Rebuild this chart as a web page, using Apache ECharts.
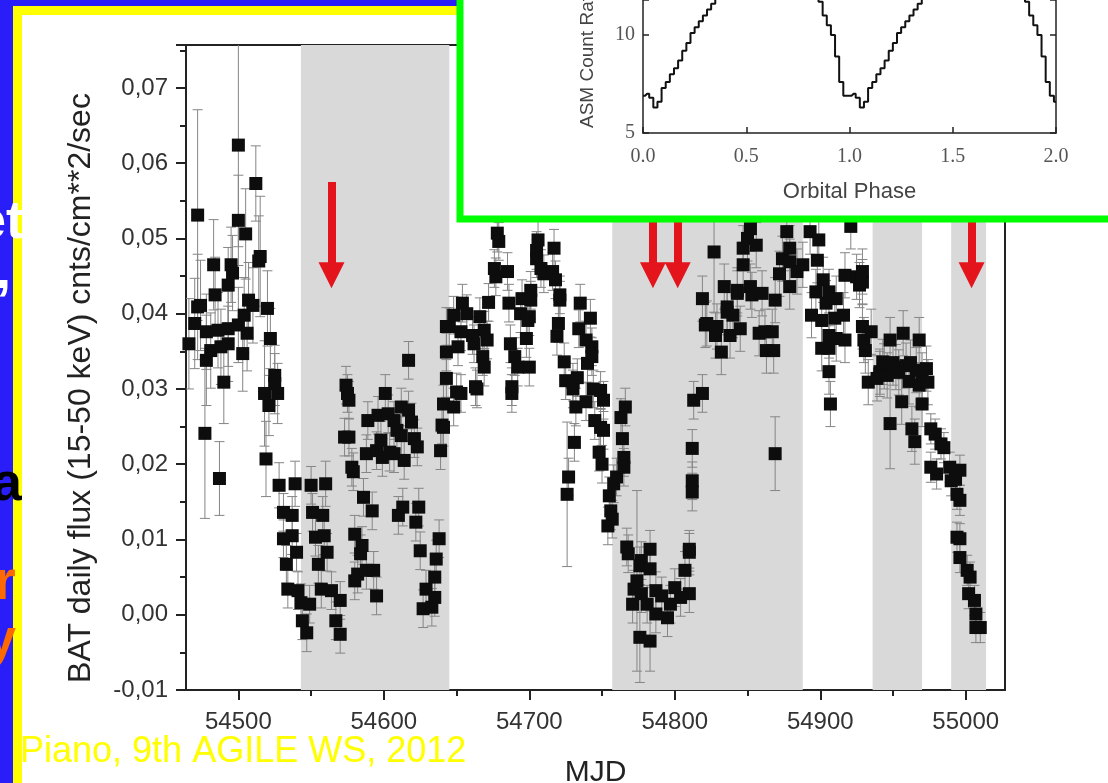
<!DOCTYPE html>
<html>
<head>
<meta charset="utf-8">
<script src="https://cdn.jsdelivr.net/npm/echarts@6/dist/echarts.min.js"></script>
<style>
html, body { margin: 0; padding: 0; background: #2a1ef8; }
#main { width: 1108px; height: 783px; }
</style>
</head>
<body>
<div id="main"></div>
<script>
// BAT daily light curve, rows are [MJD, flux, error]
var batEarly = [
	[54466, 0.0360, 0.006], [54470, 0.0387, 0.006], [54472, 0.0531, 0.014], [54472, 0.0409, 0.007],
	[54474, 0.0411, 0.006], [54477, 0.0241, 0.0113], [54478, 0.0376, 0.005], [54478, 0.0338, 0.006],
	[54481, 0.0351, 0.005], [54483, 0.0465, 0.006], [54484, 0.0425, 0.005], [54486, 0.0378, 0.005],
	[54487, 0.0181, 0.0049], [54488, 0.0356, 0.005], [54490, 0.0309, 0.0055], [54493, 0.0380, 0.005],
	[54493, 0.0438, 0.005], [54493, 0.0360, 0.005], [54495, 0.0465, 0.005], [54496, 0.0454, 0.005],
	[54500, 0.0624, 0.0135], [54500, 0.0524, 0.006], [54500, 0.0385, 0.005], [54503, 0.0347, 0.005],
	[54504, 0.0398, 0.005], [54505, 0.0506, 0.006], [54506, 0.0374, 0.005], [54507, 0.0418, 0.005],
	[54510, 0.0411, 0.005], [54512, 0.0573, 0.005], [54515, 0.0476, 0.008], [54514, 0.0470, 0.006],
	[54518, 0.0294, 0.007], [54519, 0.0207, 0.005], [54520, 0.0407, 0.005], [54521, 0.0278, 0.004],
	[54522, 0.0367, 0.004], [54525, 0.0318, 0.004], [54525, 0.0307, 0.004], [54527, 0.0294, 0.004]
];
var batGap1 = [
	[54528, 0.0172, 0.003], [54531, 0.0136, 0.0025], [54531, 0.0101, 0.0025], [54533, 0.0067, 0.0025],
	[54534, 0.0034, 0.0025], [54537, 0.0132, 0.0025], [54537, 0.0105, 0.0025], [54539, 0.0174, 0.003],
	[54540, 0.0083, 0.0025], [54541, 0.0032, 0.0025], [54543, 0.0016, 0.0025], [54544, -0.0008, 0.0025],
	[54547, -0.0024, 0.0025], [54549, 0.0014, 0.0025], [54550, 0.0172, 0.0025], [54551, 0.0136, 0.0025],
	[54553, 0.0103, 0.0025], [54555, 0.0067, 0.0025], [54557, 0.0034, 0.0025], [54558, 0.0132, 0.0025],
	[54559, 0.0105, 0.0025], [54560, 0.0174, 0.003], [54561, 0.0083, 0.0025], [54564, 0.0032, 0.0025],
	[54567, -0.0008, 0.0025], [54570, 0.0019, 0.0025], [54570, -0.0026, 0.0025], [54573, 0.0236, 0.0025],
	[54574, 0.0305, 0.0025], [54575, 0.0294, 0.0025], [54576, 0.0285, 0.0025], [54576, 0.0236, 0.0025],
	[54578, 0.0196, 0.0025], [54579, 0.0190, 0.0025], [54580, 0.0107, 0.0025], [54580, 0.0045, 0.0025],
	[54582, 0.0054, 0.0025], [54584, 0.0081, 0.0025], [54585, 0.0092, 0.0025], [54586, 0.0156, 0.0025],
	[54588, 0.0059, 0.0025], [54588, 0.0214, 0.0025], [54589, 0.0258, 0.0025], [54592, 0.0138, 0.0025],
	[54593, 0.0059, 0.0025], [54595, 0.0025, 0.0025], [54595, 0.0218, 0.0025], [54596, 0.0265, 0.0025],
	[54598, 0.0232, 0.0025], [54599, 0.0209, 0.0025], [54601, 0.0294, 0.0025], [54603, 0.0267, 0.0025],
	[54604, 0.0216, 0.0025], [54607, 0.0258, 0.0025], [54607, 0.0214, 0.0025], [54609, 0.0245, 0.0025],
	[54610, 0.0132, 0.0025], [54612, 0.0276, 0.0025], [54612, 0.0238, 0.0025], [54613, 0.0143, 0.0025],
	[54614, 0.0205, 0.0025], [54617, 0.0272, 0.0025], [54617, 0.0338, 0.0025], [54619, 0.0256, 0.0025],
	[54621, 0.0234, 0.0025], [54622, 0.0123, 0.0025], [54623, 0.0223, 0.0025], [54624, 0.0143, 0.0025],
	[54625, 0.0085, 0.0025], [54627, 0.0008, 0.0025], [54629, 0.0034, 0.0025], [54633, 0.0010, 0.0025],
	[54635, 0.0050, 0.0025], [54635, 0.0023, 0.0025], [54636, 0.0074, 0.0025], [54638, 0.0101, 0.0025],
	[54639, 0.0218, 0.0025], [54640, 0.0252, 0.0025], [54641, 0.0280, 0.0025], [54641, 0.0249, 0.0025],
	[54643, 0.0314, 0.0025], [54643, 0.0349, 0.0025], [54643, 0.0383, 0.0025], [54645, 0.0383, 0.0025]
];
var batMid = [
	[54648, 0.0276, 0.0025], [54648, 0.0398, 0.0025], [54650, 0.0296, 0.0025], [54651, 0.0356, 0.0025],
	[54653, 0.0294, 0.0025], [54653, 0.0376, 0.0025], [54654, 0.0414, 0.0025], [54657, 0.0400, 0.0025],
	[54661, 0.0371, 0.0025], [54662, 0.0360, 0.0025], [54663, 0.0303, 0.0025], [54664, 0.0300, 0.0025],
	[54666, 0.0396, 0.0025], [54668, 0.0343, 0.0025], [54669, 0.0378, 0.0025], [54669, 0.0329, 0.0025],
	[54671, 0.0365, 0.0025], [54672, 0.0415, 0.0025], [54676, 0.0460, 0.0025], [54677, 0.0449, 0.0025],
	[54678, 0.0507, 0.0025], [54679, 0.0496, 0.0025], [54685, 0.0456, 0.0025], [54686, 0.0414, 0.0025],
	[54687, 0.0360, 0.0025], [54688, 0.0303, 0.0025], [54688, 0.0294, 0.0025], [54690, 0.0343, 0.0025],
	[54692, 0.0329, 0.0025], [54694, 0.0400, 0.0025], [54695, 0.0420, 0.0025], [54698, 0.0367, 0.0025],
	[54699, 0.0391, 0.0025], [54700, 0.0396, 0.0025], [54700, 0.0329, 0.0025], [54701, 0.0431, 0.0025],
	[54701, 0.0418, 0.0025], [54705, 0.0484, 0.0025], [54705, 0.0473, 0.0025], [54706, 0.0498, 0.0025],
	[54708, 0.0460, 0.0025], [54710, 0.0453, 0.0025], [54716, 0.0456, 0.0025], [54717, 0.0487, 0.0025],
	[54718, 0.0445, 0.0025], [54719, 0.0370, 0.0025], [54720, 0.0387, 0.0025], [54721, 0.0425, 0.0025],
	[54721, 0.0418, 0.0025], [54724, 0.0336, 0.0025], [54725, 0.0311, 0.0025], [54726, 0.0160, 0.0096],
	[54727, 0.0183, 0.0025], [54730, 0.0309, 0.0025], [54730, 0.0300, 0.0025], [54731, 0.0229, 0.0025],
	[54732, 0.0276, 0.0025], [54733, 0.0315, 0.0025], [54734, 0.0380, 0.0025], [54735, 0.0414, 0.0025],
	[54739, 0.0365, 0.0025], [54739, 0.0283, 0.0025], [54740, 0.0334, 0.0025], [54742, 0.0394, 0.0025],
	[54743, 0.0356, 0.0025], [54743, 0.0343, 0.0025], [54744, 0.0300, 0.0025], [54745, 0.0258, 0.0025],
	[54748, 0.0216, 0.0025], [54749, 0.0298, 0.0025], [54749, 0.0249, 0.0025], [54750, 0.0200, 0.0025],
	[54751, 0.0285, 0.0025], [54751, 0.0245, 0.0025], [54754, 0.0118, 0.0025], [54755, 0.0158, 0.0025],
	[54756, 0.0138, 0.0025], [54757, 0.0127, 0.0025], [54758, 0.0174, 0.0025], [54760, 0.0183, 0.0025],
	[54763, 0.0262, 0.0025], [54764, 0.0234, 0.0025], [54765, 0.0209, 0.0025], [54765, 0.0196, 0.0025],
	[54766, 0.0276, 0.0025]
];
var batGap2 = [
	[54767, 0.0090, 0.0025], [54768, 0.0081, 0.0025], [54771, 0.0014, 0.0025], [54772, 0.0034, 0.0025],
	[54774, 0.0045, 0.012], [54776, 0.0065, 0.0025], [54776, -0.0030, 0.006], [54777, 0.0072, 0.0025],
	[54777, 0.0028, 0.0025], [54781, 0.0014, 0.0025], [54783, 0.0087, 0.0025], [54783, 0.0061, 0.0025],
	[54783, -0.0035, 0.004], [54787, 0.0032, 0.0025], [54787, 0.0001, 0.0025], [54791, 0.0025, 0.0025],
	[54795, -0.0004, 0.0025], [54797, 0.0014, 0.0025], [54800, 0.0036, 0.0025], [54804, 0.0023, 0.0025],
	[54807, 0.0059, 0.0025], [54810, 0.0083, 0.0025], [54810, 0.0028, 0.0025], [54810, 0.0087, 0.0025],
	[54812, 0.0221, 0.0025], [54812, 0.0178, 0.0025], [54812, 0.0163, 0.0025], [54813, 0.0285, 0.0025],
	[54819, 0.0294, 0.0025], [54819, 0.0420, 0.003], [54821, 0.0385, 0.003], [54822, 0.0387, 0.003],
	[54827, 0.0482, 0.008], [54828, 0.0371, 0.003], [54829, 0.0383, 0.003], [54832, 0.0349, 0.003],
	[54834, 0.0436, 0.003], [54836, 0.0402, 0.003], [54836, 0.0409, 0.003], [54838, 0.0371, 0.003],
	[54840, 0.0398, 0.003], [54843, 0.0431, 0.003], [54843, 0.0427, 0.003], [54845, 0.0380, 0.003],
	[54847, 0.0487, 0.003], [54847, 0.0465, 0.003], [54850, 0.0500, 0.003], [54852, 0.0513, 0.003],
	[54852, 0.0436, 0.003], [54853, 0.0425, 0.003], [54856, 0.0491, 0.003], [54858, 0.0374, 0.003],
	[54860, 0.0427, 0.003], [54862, 0.0376, 0.003], [54863, 0.0351, 0.003], [54867, 0.0376, 0.003],
	[54868, 0.0351, 0.003], [54869, 0.0214, 0.0049], [54869, 0.0418, 0.003], [54872, 0.0453, 0.003],
	[54874, 0.0473, 0.003], [54877, 0.0509, 0.003], [54879, 0.0487, 0.003], [54879, 0.0469, 0.003],
	[54879, 0.0436, 0.003], [54884, 0.0456, 0.003], [54888, 0.0465, 0.003]
];
var batLate = [
	[54893, 0.0509, 0.003], [54894, 0.0398, 0.003], [54897, 0.0429, 0.003], [54898, 0.0471, 0.003],
	[54899, 0.0498, 0.003], [54901, 0.0391, 0.003], [54901, 0.0354, 0.003], [54902, 0.0445, 0.003],
	[54904, 0.0414, 0.003], [54906, 0.0429, 0.003], [54906, 0.0371, 0.003], [54906, 0.0354, 0.003],
	[54906, 0.0323, 0.003], [54907, 0.0280, 0.003], [54910, 0.0394, 0.003], [54911, 0.0420, 0.003],
	[54911, 0.0367, 0.003], [54916, 0.0398, 0.003], [54917, 0.0451, 0.003], [54917, 0.0365, 0.003],
	[54921, 0.0516, 0.003], [54925, 0.0449, 0.003], [54927, 0.0438, 0.003], [54929, 0.0456, 0.003],
	[54929, 0.0442, 0.003], [54929, 0.0383, 0.003], [54930, 0.0365, 0.003], [54931, 0.0351, 0.003],
	[54933, 0.0309, 0.003], [54935, 0.0376, 0.003], [54939, 0.0314, 0.003], [54941, 0.0323, 0.003],
	[54941, 0.0320, 0.003], [54943, 0.0336, 0.003], [54944, 0.0330, 0.003], [54946, 0.0318, 0.003],
	[54948, 0.0365, 0.003], [54948, 0.0254, 0.006], [54950, 0.0335, 0.003], [54952, 0.0329, 0.003],
	[54954, 0.0322, 0.003], [54956, 0.0283, 0.003], [54957, 0.0374, 0.003], [54959, 0.0331, 0.003],
	[54961, 0.0310, 0.003], [54962, 0.0335, 0.003], [54963, 0.0247, 0.003], [54965, 0.0230, 0.003],
	[54966, 0.0325, 0.003], [54968, 0.0365, 0.003], [54968, 0.0305, 0.003], [54970, 0.0280, 0.003],
	[54970, 0.0318, 0.003], [54973, 0.0327, 0.003], [54974, 0.0309, 0.003], [54976, 0.0247, 0.002],
	[54976, 0.0196, 0.002], [54979, 0.0240, 0.002], [54980, 0.0187, 0.002], [54983, 0.0227, 0.002],
	[54985, 0.0222, 0.002], [54989, 0.0196, 0.002], [54990, 0.0178, 0.002], [54993, 0.0180, 0.002],
	[54994, 0.0160, 0.002], [54994, 0.0103, 0.002], [54996, 0.0192, 0.002], [54996, 0.0152, 0.002],
	[54996, 0.0101, 0.002], [54996, 0.0076, 0.002], [55001, 0.0059, 0.002], [55002, 0.0028, 0.002],
	[55003, 0.0050, 0.002], [55006, 0.0019, 0.002], [55007, 0.0001, 0.002], [55007, -0.0017, 0.002],
	[55010, -0.0017, 0.002]
];
var batPoints = batEarly.concat(batGap1, batMid, batGap2, batLate);

var xMajor = [54500, 54600, 54700, 54800, 54900, 55000];
var xMinor = [54550, 54650, 54750, 54850, 54950];
// shaded MJD intervals
var bands = [[54543, 54645], [54757, 54888], [54936, 54970], [54990, 55014]];
// red arrows: MJD, top flux, tip flux
var arrows = [[54564, 0.0575, 0.0451], [54785, 0.062, 0.0451], [54802, 0.062, 0.0451], [55004, 0.062, 0.0451]];

// inset: ASM folded light curve, one orbital cycle in 0.02 phase bins (plotted twice)
var asmRate = [6.9, 7.0, 6.8, 6.3, 6.6, 7.3, 7.6, 8.0, 8.3, 8.7,
	9.2, 9.6, 10.1, 10.4, 10.7, 11.0, 11.3, 11.6, 11.9, 12.2,
	12.5, 12.8, 13.0, 13.3, 13.5, 13.7, 13.9, 14.0, 14.1, 14.2,
	14.1, 14.0, 13.9, 13.8, 13.6, 13.4, 13.2, 13.0, 12.7, 12.5,
	12.3, 12.1, 12.0, 11.7, 11.0, 10.5, 10.0, 8.9, 7.6, 6.9];
var asmData = [];
asmRate.concat(asmRate, [6.6]).forEach(function (v, i) {
	asmData.push([i * 0.02, v]);
});

var chart = echarts.init(document.getElementById('main'));

var sans = 'Liberation Sans, Arial, sans-serif';
var serif = 'Liberation Serif, Times New Roman, serif';

var option = {
	backgroundColor: '#2a1ef8',
	animation: false,
	textStyle: { fontFamily: sans },
	grid: [{
		left: 186, right: 103, top: 45, bottom: 93, outerBoundsMode: 'none',
		show: true, borderColor: '#222', borderWidth: 2, backgroundColor: 'transparent'
	}, {
		// upper part of the inset is cut off by the slide edge
		left: 643, right: 52, top: 0, bottom: 650, z: 60, outerBoundsMode: 'none'
	}],
	xAxis: [{
		type: 'value', gridIndex: 0, min: 54464, max: 55027,
		axisLine: { onZero: false, lineStyle: { color: '#222', width: 2 } },
		axisTick: { customValues: xMajor, length: 10, lineStyle: { color: '#222', width: 2 } },
		axisLabel: {
			customValues: xMajor, fontSize: 24, color: '#333', margin: 20,
			formatter: function (v) { return String(v); }
		},
		splitLine: { show: false },
		name: 'MJD', nameLocation: 'middle', nameGap: 68,
		nameTextStyle: { fontSize: 30, color: '#222' }
	}, {
		type: 'value', gridIndex: 0, min: 54464, max: 55027, position: 'bottom',
		axisLine: { show: false, onZero: false },
		axisTick: { customValues: xMinor, length: 6, lineStyle: { color: '#222', width: 2 } },
		axisLabel: { show: false },
		splitLine: { show: false }
	}, {
		type: 'value', gridIndex: 1, min: 0, max: 2, interval: 0.5, z: 60,
		axisLine: { onZero: false, lineStyle: { color: '#222', width: 1.5 } },
		axisTick: { inside: true, length: 6, lineStyle: { color: '#222', width: 1.5 } },
		axisLabel: {
			fontFamily: serif, fontSize: 20, color: '#555', margin: 14,
			formatter: function (v) { return v.toFixed(1); }
		},
		splitLine: { show: false },
		name: 'Orbital Phase', nameLocation: 'middle', nameGap: 48,
		nameTextStyle: { fontSize: 22, color: '#444' }
	}],
	yAxis: [{
		type: 'value', gridIndex: 0, min: -0.01, max: 0.0757, interval: 0.01,
		axisLine: { onZero: false, lineStyle: { color: '#222', width: 2 } },
		axisTick: { length: 10, lineStyle: { color: '#222', width: 2 } },
		minorTick: { show: true, splitNumber: 2, length: 6, lineStyle: { color: '#222', width: 2 } },
		axisLabel: {
			fontSize: 24, color: '#333', margin: 18,
			formatter: function (v) {
				var k = Math.round(v * 100);
				if (Math.abs(v * 100 - k) > 1e-6) return '';
				return (k / 100).toFixed(2).replace('.', ',');
			}
		},
		splitLine: { show: false }
	}, {
		type: 'value', gridIndex: 1, min: 5, max: 11.79, interval: 5, z: 60,
		axisLine: { onZero: false, lineStyle: { color: '#222', width: 1.5 } },
		axisTick: { inside: true, length: 6, lineStyle: { color: '#222', width: 1.5 } },
		axisLabel: {
			fontFamily: serif, fontSize: 20, color: '#555', margin: 8,
			formatter: function (v) { return v % 5 === 0 ? String(v) : ''; }
		},
		splitLine: { show: false }
	}, {
		type: 'value', gridIndex: 1, min: 5, max: 11.79, interval: 5, position: 'right', z: 60,
		axisLine: { onZero: false, lineStyle: { color: '#222', width: 1.5 } },
		axisTick: { inside: true, length: 6, lineStyle: { color: '#222', width: 1.5 } },
		axisLabel: { show: false },
		splitLine: { show: false }
	}],
	series: [{
		// shaded intervals
		type: 'line', xAxisIndex: 0, yAxisIndex: 0, data: [], z: 1, silent: true,
		markArea: {
			silent: true,
			itemStyle: { color: '#d9d9d9' },
			data: bands.map(function (b) { return [{ xAxis: b[0] }, { xAxis: b[1] }]; })
		}
	}, {
		// error bars
		type: 'custom', xAxisIndex: 0, yAxisIndex: 0, z: 3, clip: true, silent: true,
		data: batPoints,
		encode: { x: 0, y: 1 },
		renderItem: function (params, api) {
			var x = api.value(0), y = api.value(1), e = api.value(2);
			var top = api.coord([x, y + e]);
			var bot = api.coord([x, y - e]);
			var st = { stroke: '#858585', lineWidth: 1 };
			return {
				type: 'group',
				children: [
					{ type: 'line', shape: { x1: top[0], y1: top[1], x2: bot[0], y2: bot[1] }, style: st },
					{ type: 'line', shape: { x1: top[0] - 5, y1: top[1], x2: top[0] + 5, y2: top[1] }, style: st },
					{ type: 'line', shape: { x1: bot[0] - 5, y1: bot[1], x2: bot[0] + 5, y2: bot[1] }, style: st }
				]
			};
		}
	}, {
		type: 'scatter', xAxisIndex: 0, yAxisIndex: 0, z: 4, silent: true,
		data: batPoints,
		encode: { x: 0, y: 1 },
		symbol: 'rect', symbolSize: 13,
		itemStyle: { color: '#0d0d0d', opacity: 1 }
	}, {
		// red arrows
		type: 'line', xAxisIndex: 0, yAxisIndex: 0, data: [], z: 5, silent: true,
		markLine: {
			silent: true, animation: false,
			symbol: ['none', 'triangle'], symbolSize: 26,
			label: { show: false },
			lineStyle: { color: '#e3141b', width: 8, type: 'solid' },
			emphasis: { disabled: true },
			data: arrows.map(function (a) {
				return [{ coord: [a[0], a[1]] }, { coord: [a[0], a[2]] }];
			})
		}
	}, {
		type: 'line', xAxisIndex: 2, yAxisIndex: 1, z: 61, silent: true,
		data: asmData, step: 'middle', showSymbol: false, clip: true,
		lineStyle: { color: '#111', width: 2 }
	}],
	graphic: [
		{ type: 'rect', z: -10, shape: { x: 13, y: 6, width: 1200, height: 800 }, style: { fill: '#ffff00' } },
		{ type: 'text', z: -9, x: -24, y: 250, style: { text: 'et', fill: '#fff', font: 'bold 54px ' + sans, verticalAlign: 'bottom' } },
		{ type: 'text', z: -9, x: -4, y: 300, style: { text: ',', fill: '#fff', font: 'bold 54px ' + sans, verticalAlign: 'bottom' } },
		{ type: 'text', z: -9, x: -8, y: 512, style: { text: 'a', fill: '#000', font: 'bold 54px ' + sans, verticalAlign: 'bottom' } },
		{ type: 'text', z: -9, x: -6, y: 612, style: { text: 'r', fill: '#ff6a00', font: 'bold 56px ' + sans, verticalAlign: 'bottom' } },
		{ type: 'text', z: -9, x: -14, y: 668, style: { text: 'y', fill: '#ff6a00', font: 'bold 54px ' + sans, verticalAlign: 'bottom' } },
		{ type: 'rect', z: -8, shape: { x: 22, y: 15, width: 1200, height: 800 }, style: { fill: '#ffffff' } },
		// y axis title of the main panel
		{ type: 'text', z: 10, x: 81, y: 388, rotation: Math.PI / 2, style: { text: 'BAT daily flux (15-50 keV) cnts/cm**2/sec', fill: '#222', font: '32px ' + sans, align: 'center', verticalAlign: 'middle' } },
		// inset frame
		{ type: 'rect', z: 50, shape: { x: 460, y: -10, width: 700, height: 229 }, style: { fill: '#ffffff', stroke: '#00ff00', lineWidth: 7 } },
		{ type: 'text', z: 62, x: 588, y: 128, rotation: Math.PI / 2, style: { text: 'ASM Count Rate', fill: '#444', font: '19px ' + sans, align: 'left', verticalAlign: 'middle' } },
		{ type: 'text', z: 100, x: 20, y: 770, style: { text: 'Piano, 9th AGILE WS, 2012', fill: '#ffff00', font: '36px ' + sans, verticalAlign: 'bottom' } }
	]
};
chart.setOption(option);
</script>
</body>
</html>
